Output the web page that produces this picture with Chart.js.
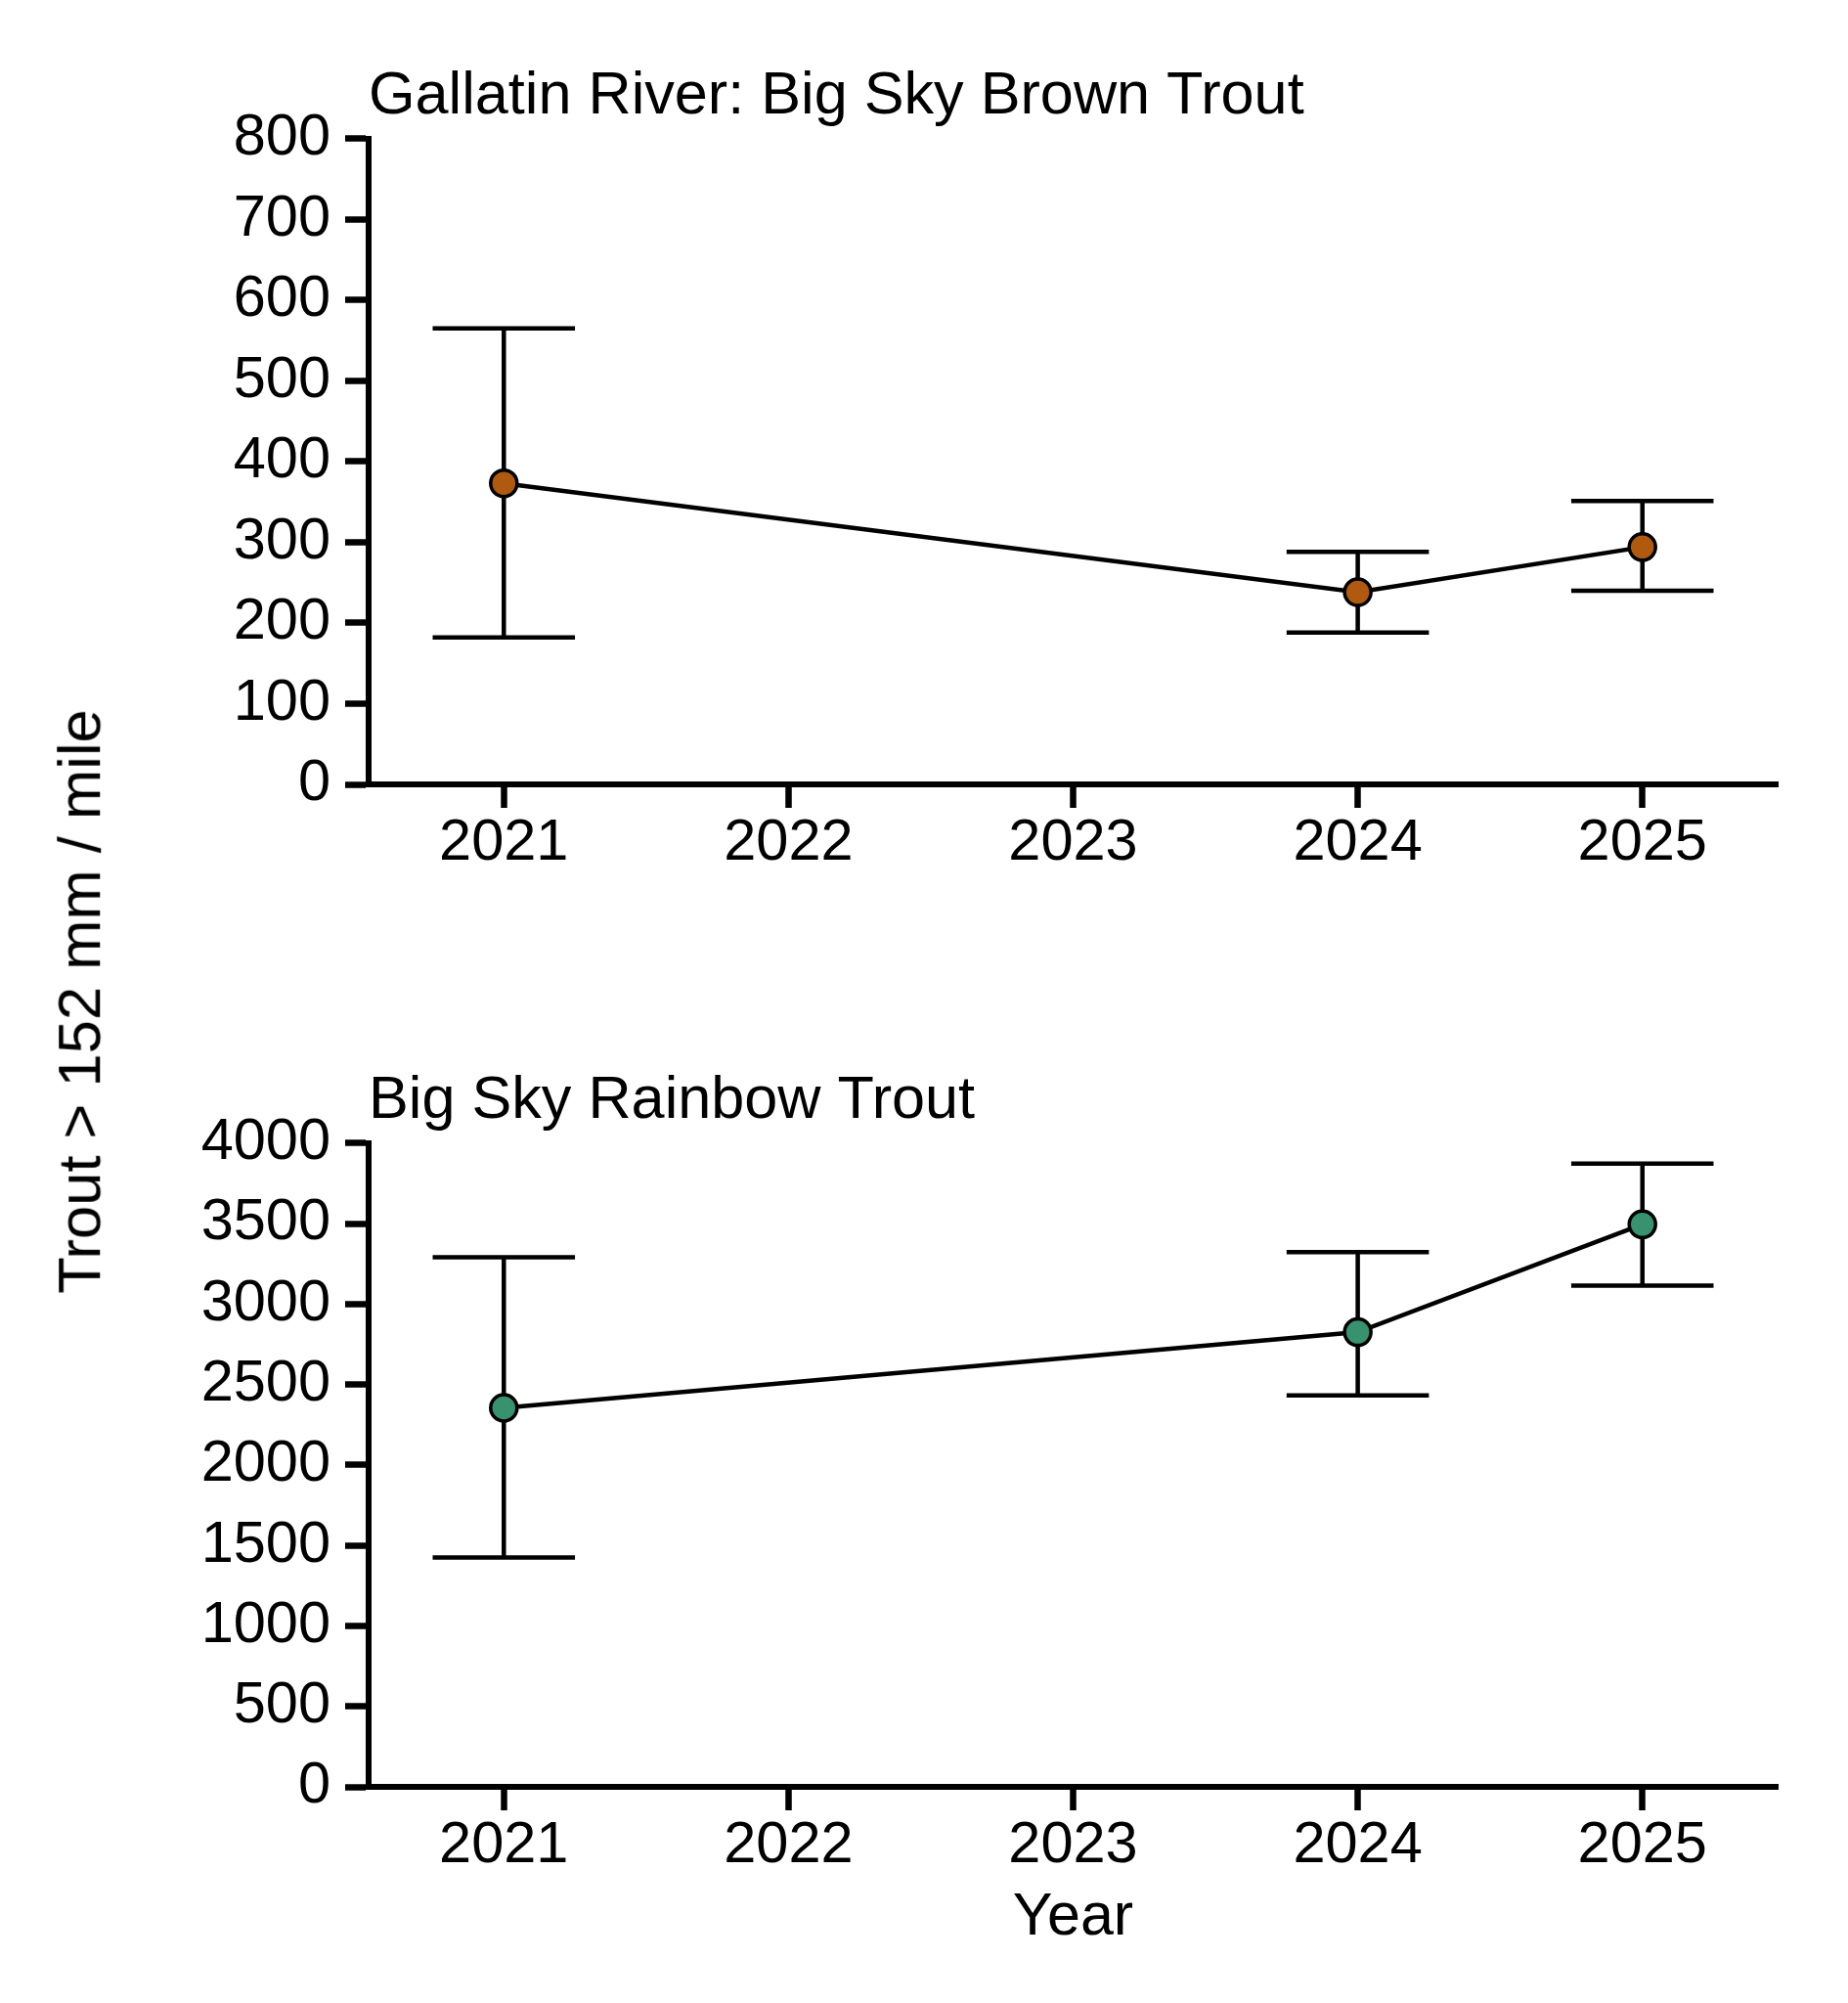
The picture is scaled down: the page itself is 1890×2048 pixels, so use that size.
<!DOCTYPE html>
<html><head><meta charset="utf-8">
<script src="https://cdn.jsdelivr.net/npm/chart.js@4.4.1/dist/chart.umd.min.js"></script>
<style>
html,body{margin:0;padding:0;background:#fff;width:1890px;height:2048px;overflow:hidden;}
canvas{position:absolute;left:0;}
#c1{top:0;}
#c2{top:1000px;}
#ytitle{position:absolute;left:81px;top:1024px;transform:translate(-50%,-50%) rotate(-90deg);font:61.5px "Liberation Sans",Arial,sans-serif;white-space:nowrap;color:#000;line-height:1;}
</style></head><body>
<canvas id="c1" width="1890" height="1000"></canvas>
<canvas id="c2" width="1890" height="1048"></canvas>
<div id="ytitle">Trout &gt; 152 mm / mile</div>
<script>
// ---- data ----
const years = [2021, 2024, 2025];
const yearTicks = [2021, 2022, 2023, 2024, 2025];
const brownEst = [373, 238, 294];
const brownLow = [182, 188, 240];
const brownHigh = [565, 288, 351];
const rainbowEst = [2355, 2825, 3495];
const rainbowLow = [1425, 2432, 3115];
const rainbowHigh = [3290, 3322, 3872];
const brownTicks = [0, 100, 200, 300, 400, 500, 600, 700, 800];
const rainbowTicks = [0, 500, 1000, 1500, 2000, 2500, 3000, 3500, 4000];
const brownTitle = 'Gallatin River: Big Sky Brown Trout';
const rainbowTitle = 'Big Sky Rainbow Trout';
const xTitle = 'Year';

const FONT = '"Liberation Sans", Arial, sans-serif';
const CAP = 0.25;

const errorBars = {
  id: 'errorBars',
  beforeDatasetsDraw(chart, args, opts) {
    const {ctx, scales: {x, y}} = chart;
    ctx.save();
    ctx.strokeStyle = '#000';
    ctx.lineWidth = 4.5;
    ctx.lineCap = 'butt';
    opts.xs.forEach((xv, i) => {
      const px = x.getPixelForValue(xv);
      const pl = x.getPixelForValue(xv - CAP);
      const pr = x.getPixelForValue(xv + CAP);
      const yl = y.getPixelForValue(opts.low[i]);
      const yh = y.getPixelForValue(opts.high[i]);
      ctx.beginPath();
      ctx.moveTo(px, yl); ctx.lineTo(px, yh);
      ctx.moveTo(pl, yl); ctx.lineTo(pr, yl);
      ctx.moveTo(pl, yh); ctx.lineTo(pr, yh);
      ctx.stroke();
    });
    ctx.restore();
  }
};

function makeChart(id, cfg) {
  const pts = years.map((yr, i) => ({x: yr, y: cfg.est[i]}));
  new Chart(document.getElementById(id), {
    type: 'line',
    data: {datasets: [{
      data: pts,
      borderColor: '#000',
      borderWidth: 4.5,
      tension: 0,
      pointRadius: 13.5,
      pointBorderWidth: 3.5,
      pointBorderColor: '#000',
      pointBackgroundColor: cfg.color,
      clip: false
    }]},
    options: {
      responsive: false,
      devicePixelRatio: 1,
      animation: false,
      events: [],
      layout: {padding: {left: 0, right: 72, top: 0, bottom: cfg.padBottom}},
      plugins: {
        legend: {display: false},
        tooltip: {enabled: false},
        title: {
          display: true, text: cfg.title, align: 'start', fullSize: false,
          color: '#000', font: {family: FONT, size: 61.2, weight: 'normal', lineHeight: 1.2},
          padding: {top: cfg.titleTop, bottom: 6}
        },
        errorBars: {xs: years, low: cfg.low, high: cfg.high}
      },
      scales: {
        x: {
          type: 'linear', min: 2020.525, max: 2025.475,
          afterBuildTicks: s => { s.ticks = yearTicks.map(v => ({value: v})); },
          afterFit: s => { s.height = cfg.xHeight; },
          grid: {drawOnChartArea: false, drawTicks: true, tickLength: 24, tickWidth: 6.5, tickColor: '#000'},
          border: {display: true, color: '#000', width: 6},
          ticks: {color: '#000', padding: 7, maxRotation: 0, autoSkip: false,
                  font: {family: FONT, size: 59.5, lineHeight: 1},
                  callback: v => String(v)},
          title: cfg.xTitle ? {display: true, text: cfg.xTitle, color: '#000',
                  font: {family: FONT, size: 61, lineHeight: 1.2}, padding: {top: 0, bottom: 4}} : {display: false}
        },
        y: {
          type: 'linear', min: 0, max: cfg.ticks[cfg.ticks.length - 1],
          afterBuildTicks: s => { s.ticks = cfg.ticks.map(v => ({value: v})); },
          afterFit: s => { s.width = 377; },
          grid: {drawOnChartArea: false, drawTicks: true, tickLength: 24, tickWidth: 6.5, tickColor: '#000'},
          border: {display: true, color: '#000', width: 6},
          ticks: {color: '#000', padding: 15, autoSkip: false,
                  font: {family: FONT, size: 59.5, lineHeight: 1},
                  callback: v => String(v)}
        }
      }
    },
    plugins: [errorBars]
  });
}

makeChart('c1', {est: brownEst, low: brownLow, high: brownHigh, ticks: brownTicks,
  color: '#B05A10', title: brownTitle, titleTop: 62.3, padBottom: 78, xHeight: 120, xTitle: null});
makeChart('c2', {est: rainbowEst, low: rainbowLow, high: rainbowHigh, ticks: rainbowTicks,
  color: '#389270', title: rainbowTitle, titleTop: 89.3, padBottom: 46, xHeight: 175, xTitle: xTitle});
</script>
</body></html>
